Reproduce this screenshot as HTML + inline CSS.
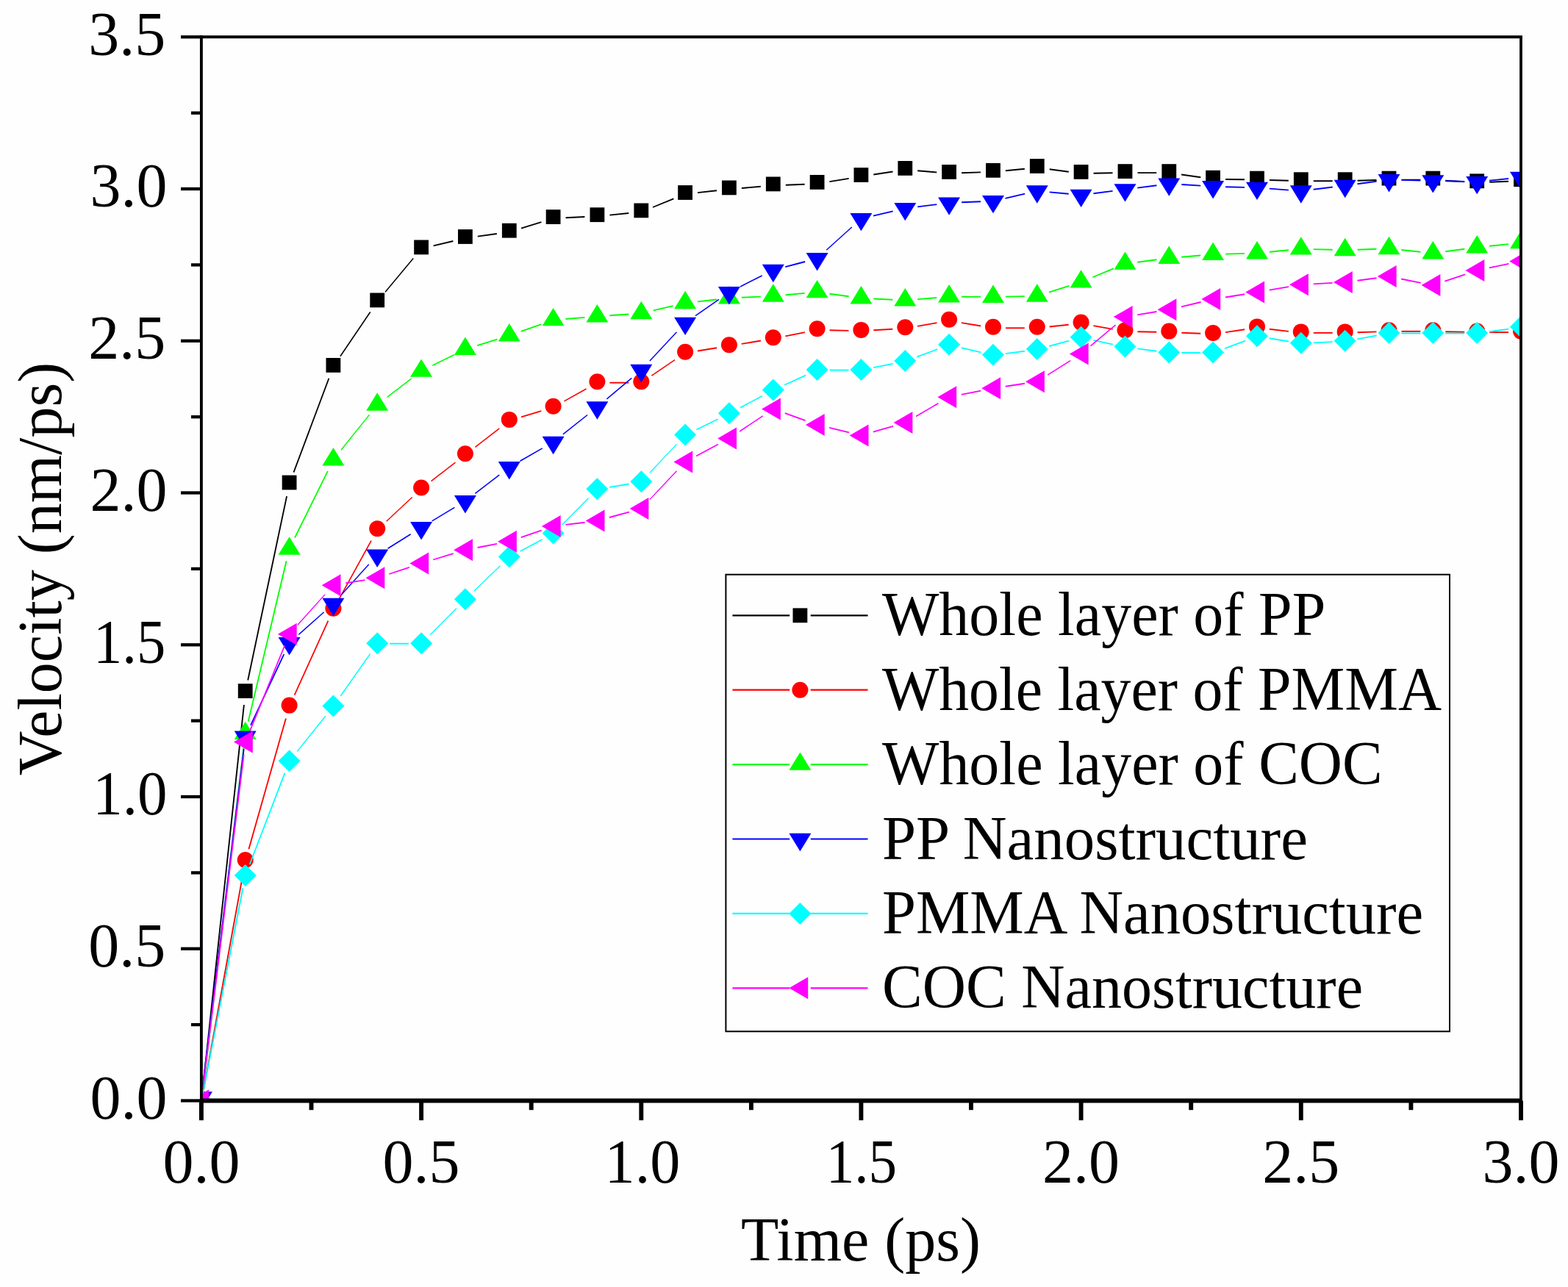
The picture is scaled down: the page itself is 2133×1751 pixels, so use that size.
<!DOCTYPE html>
<html><head><meta charset="utf-8"><title>Velocity vs Time</title>
<style>
html,body{margin:0;padding:0;background:#fefefe;}
svg{display:block;}
text{font-family:"Liberation Serif","Times New Roman",serif;fill:#000;}
</style></head><body>
<svg width="2133" height="1751" viewBox="0 0 2133 1751">
<rect width="2133" height="1751" fill="#fefefe"/>
<defs><clipPath id="pa"><rect x="273.9" y="50.3" width="1795.1" height="1447.2"/></clipPath></defs>
<g clip-path="url(#pa)">
<g fill="none" stroke="#000000"><path stroke-width="1.89" d="M275.7 1482.6L331.9 959"/><path stroke-width="1.86" d="M337.2 925.5L390.1 675.1"/><path stroke-width="1.78" d="M399.5 642.6L447.4 514.8"/><path stroke-width="1.57" d="M462.9 484.8L503.7 424.5"/><path stroke-width="1.46" d="M524.1 397.3L562.2 351.5"/><path stroke-width="1.85" d="M589.6 334.4L616.4 328"/><path stroke-width="1.88" d="M649.8 321.6L675.9 318"/><path stroke-width="1.81" d="M709 310.6L736.4 302.1"/><path stroke-width="1.9" d="M769.6 296.3L795.4 295"/><path stroke-width="1.89" d="M829.4 292.6L855.3 290"/><path stroke-width="1.76" d="M888 282L916.4 270.4"/><path stroke-width="1.89" d="M949 262.1L975 259.3"/><path stroke-width="1.89" d="M1008.9 256L1034.8 253.8"/><path stroke-width="1.9" d="M1068.8 251.7L1094.6 250.7"/><path stroke-width="1.87" d="M1128.4 247.2L1154.7 242.8"/><path stroke-width="1.88" d="M1188.3 237.5L1214.5 233.5"/><path stroke-width="1.89" d="M1248.2 232.3L1274.2 234.5"/><path stroke-width="1.9" d="M1308.1 235.3L1334 234.4"/><path stroke-width="1.89" d="M1367.9 232.2L1393.9 229.7"/><path stroke-width="1.88" d="M1427.7 230.2L1453.8 233.7"/><path stroke-width="1.9" d="M1487.6 235.7L1513.5 235.3"/><path stroke-width="1.9" d="M1547.5 235.1L1573.3 235.1"/><path stroke-width="1.88" d="M1607.1 237.5L1633.3 241.3"/><path stroke-width="1.9" d="M1667.1 244L1693 244.3"/><path stroke-width="1.9" d="M1727 245L1752.8 245.8"/><path stroke-width="1.9" d="M1786.8 246.2L1812.7 246.2"/><path stroke-width="1.9" d="M1846.6 245.8L1872.5 245"/><path stroke-width="1.9" d="M1906.5 244.6L1932.3 244.6"/><path stroke-width="1.9" d="M1966.3 245.6L1992.2 247.2"/><path stroke-width="1.9" d="M2026.2 247.7L2052 246.8"/></g>
<g fill="#000000"><rect x="264" y="1487.6" width="19.8" height="19.8"/><rect x="323.8" y="930.2" width="19.8" height="19.8"/><rect x="383.7" y="646.6" width="19.8" height="19.8"/><rect x="443.5" y="487" width="19.8" height="19.8"/><rect x="503.3" y="398.5" width="19.8" height="19.8"/><rect x="563.2" y="326.5" width="19.8" height="19.8"/><rect x="623" y="312.1" width="19.8" height="19.8"/><rect x="682.9" y="303.8" width="19.8" height="19.8"/><rect x="742.7" y="285.2" width="19.8" height="19.8"/><rect x="802.5" y="282.3" width="19.8" height="19.8"/><rect x="862.4" y="276.5" width="19.8" height="19.8"/><rect x="922.2" y="252.1" width="19.8" height="19.8"/><rect x="982" y="245.5" width="19.8" height="19.8"/><rect x="1041.9" y="240.5" width="19.8" height="19.8"/><rect x="1101.7" y="238" width="19.8" height="19.8"/><rect x="1161.5" y="228.1" width="19.8" height="19.8"/><rect x="1221.4" y="219" width="19.8" height="19.8"/><rect x="1281.2" y="224" width="19.8" height="19.8"/><rect x="1341.1" y="221.9" width="19.8" height="19.8"/><rect x="1400.9" y="216.1" width="19.8" height="19.8"/><rect x="1460.7" y="224" width="19.8" height="19.8"/><rect x="1520.6" y="223.2" width="19.8" height="19.8"/><rect x="1580.4" y="223.2" width="19.8" height="19.8"/><rect x="1640.2" y="231.8" width="19.8" height="19.8"/><rect x="1700.1" y="232.7" width="19.8" height="19.8"/><rect x="1759.9" y="234.3" width="19.8" height="19.8"/><rect x="1819.8" y="234.3" width="19.8" height="19.8"/><rect x="1879.6" y="232.7" width="19.8" height="19.8"/><rect x="1939.4" y="232.7" width="19.8" height="19.8"/><rect x="1999.3" y="236.4" width="19.8" height="19.8"/><rect x="2059.1" y="234.3" width="19.8" height="19.8"/></g>
<g fill="none" stroke="#ff0000"><path stroke-width="1.87" d="M277 1482.3L330.7 1188.2"/><path stroke-width="1.83" d="M338.4 1155.2L388.9 977.4"/><path stroke-width="1.73" d="M400.6 945.6L446.4 844.6"/><path stroke-width="1.66" d="M461.6 814.3L505 735.7"/><path stroke-width="1.39" d="M525.7 709.2L560.7 676.6"/><path stroke-width="1.5" d="M586.5 654.6L619.5 629.1"/><path stroke-width="1.5" d="M646.4 608.3L679.3 582.8"/><path stroke-width="1.82" d="M709 567.4L736.3 559.1"/><path stroke-width="1.66" d="M767.4 545.9L797.6 529"/><path stroke-width="1.9" d="M829.4 520.7L855.3 520.7"/><path stroke-width="1.57" d="M886.3 511.2L918 489.7"/><path stroke-width="1.88" d="M948.9 477.5L975.2 473.3"/><path stroke-width="1.87" d="M1008.7 467.9L1035 463.5"/><path stroke-width="1.86" d="M1068.4 457.4L1094.9 452.1"/><path stroke-width="1.9" d="M1128.6 449.2L1154.5 449.9"/><path stroke-width="1.9" d="M1188.4 449.3L1214.3 447.7"/><path stroke-width="1.87" d="M1248 443.8L1274.4 439.2"/><path stroke-width="1.87" d="M1307.9 439.1L1334.2 443.5"/><path stroke-width="1.9" d="M1368 446.3L1393.8 446.3"/><path stroke-width="1.89" d="M1427.7 444.5L1453.7 441.8"/><path stroke-width="1.87" d="M1487.4 443.1L1513.7 447.8"/><path stroke-width="1.9" d="M1547.5 451.2L1573.3 451.7"/><path stroke-width="1.9" d="M1607.3 452.8L1633.2 453.8"/><path stroke-width="1.88" d="M1667 452.1L1693.2 448.3"/><path stroke-width="1.89" d="M1726.9 447.8L1752.9 450.9"/><path stroke-width="1.9" d="M1786.8 452.9L1812.7 452.9"/><path stroke-width="1.9" d="M1846.6 452.3L1872.5 451.4"/><path stroke-width="1.9" d="M1906.5 450.8L1932.3 450.8"/><path stroke-width="1.9" d="M1966.3 451.2L1992.2 451.7"/><path stroke-width="1.9" d="M2026.2 452.1L2052 452.1"/></g>
<g fill="#ff0000"><circle cx="273.9" cy="1497.5" r="11"/><circle cx="333.7" cy="1170" r="11"/><circle cx="393.6" cy="959.6" r="11"/><circle cx="453.4" cy="827.7" r="11"/><circle cx="513.2" cy="719.3" r="11"/><circle cx="573.1" cy="663.5" r="11"/><circle cx="632.9" cy="617.2" r="11"/><circle cx="692.8" cy="570.9" r="11"/><circle cx="752.6" cy="552.7" r="11"/><circle cx="812.4" cy="519.2" r="11"/><circle cx="872.3" cy="519.2" r="11"/><circle cx="932.1" cy="478.7" r="11"/><circle cx="991.9" cy="469.2" r="11"/><circle cx="1051.8" cy="459.2" r="11"/><circle cx="1111.6" cy="447.2" r="11"/><circle cx="1171.4" cy="448.9" r="11"/><circle cx="1231.3" cy="445.2" r="11"/><circle cx="1291.1" cy="434.8" r="11"/><circle cx="1351" cy="444.8" r="11"/><circle cx="1410.8" cy="444.8" r="11"/><circle cx="1470.6" cy="438.6" r="11"/><circle cx="1530.5" cy="449.3" r="11"/><circle cx="1590.3" cy="450.6" r="11"/><circle cx="1650.1" cy="453" r="11"/><circle cx="1710" cy="444.4" r="11"/><circle cx="1769.8" cy="451.4" r="11"/><circle cx="1829.7" cy="451.4" r="11"/><circle cx="1889.5" cy="449.3" r="11"/><circle cx="1949.3" cy="449.3" r="11"/><circle cx="2009.2" cy="450.6" r="11"/><circle cx="2069" cy="450.6" r="11"/></g>
<g fill="none" stroke="#00ff00"><path stroke-width="1.89" d="M275.9 1484.9L331.7 1015.1"/><path stroke-width="1.85" d="M337.7 981.6L389.6 763.3"/><path stroke-width="1.7" d="M401.1 731.5L445.9 640.9"/><path stroke-width="1.48" d="M464 612.3L502.6 564.1"/><path stroke-width="1.51" d="M526.7 540.4L559.6 515.2"/><path stroke-width="1.7" d="M588.3 497.3L617.7 482.7"/><path stroke-width="1.81" d="M649.2 470.1L676.5 461.6"/><path stroke-width="1.79" d="M708.8 450.9L736.6 441.1"/><path stroke-width="1.89" d="M769.5 434L795.5 431.9"/><path stroke-width="1.9" d="M829.4 429.3L855.3 427.5"/><path stroke-width="1.85" d="M888.8 422.4L915.6 416.2"/><path stroke-width="1.89" d="M949 410.4L975 407.5"/><path stroke-width="1.9" d="M1008.9 404.8L1034.8 403.6"/><path stroke-width="1.89" d="M1068.7 401.2L1094.7 398.9"/><path stroke-width="1.88" d="M1128.5 399.7L1154.6 403.3"/><path stroke-width="1.9" d="M1188.4 406.5L1214.3 407.7"/><path stroke-width="1.89" d="M1248.2 407.1L1274.2 405"/><path stroke-width="1.9" d="M1308.1 403.7L1334 403.9"/><path stroke-width="1.9" d="M1368 403.6L1393.8 403.1"/><path stroke-width="1.81" d="M1427 397.6L1454.4 388.9"/><path stroke-width="1.76" d="M1486.3 377.2L1514.8 365.4"/><path stroke-width="1.88" d="M1547.3 356.7L1573.5 353.3"/><path stroke-width="1.89" d="M1607.2 349.7L1633.2 347.5"/><path stroke-width="1.9" d="M1667.1 345.6L1693 344.9"/><path stroke-width="1.89" d="M1726.9 342.8L1752.9 340.3"/><path stroke-width="1.9" d="M1786.8 339.1L1812.7 339.8"/><path stroke-width="1.9" d="M1846.6 339.7L1872.5 338.8"/><path stroke-width="1.89" d="M1906.4 340L1932.4 342.7"/><path stroke-width="1.88" d="M1966.2 342.2L1992.3 338.8"/><path stroke-width="1.89" d="M2026.1 334.8L2052.1 332.1"/></g>
<g fill="#00ff00"><path d="M273.9 1485.3L288.9 1509.7L258.9 1509.7Z"/><path d="M333.7 981.7L348.7 1006.1L318.7 1006.1Z"/><path d="M393.6 730.3L408.6 754.7L378.6 754.7Z"/><path d="M453.4 609.1L468.4 633.5L438.4 633.5Z"/><path d="M513.2 534.3L528.2 558.7L498.2 558.7Z"/><path d="M573.1 488.4L588.1 512.8L558.1 512.8Z"/><path d="M632.9 458.6L647.9 483L617.9 483Z"/><path d="M692.8 440L707.8 464.4L677.8 464.4Z"/><path d="M752.6 418.9L767.6 443.3L737.6 443.3Z"/><path d="M812.4 414L827.4 438.4L797.4 438.4Z"/><path d="M872.3 409.8L887.3 434.2L857.3 434.2Z"/><path d="M932.1 395.8L947.1 420.2L917.1 420.2Z"/><path d="M991.9 389.1L1006.9 413.5L976.9 413.5Z"/><path d="M1051.8 386.3L1066.8 410.7L1036.8 410.7Z"/><path d="M1111.6 380.9L1126.6 405.3L1096.6 405.3Z"/><path d="M1171.4 389.1L1186.4 413.5L1156.4 413.5Z"/><path d="M1231.3 392L1246.3 416.4L1216.3 416.4Z"/><path d="M1291.1 387.1L1306.1 411.5L1276.1 411.5Z"/><path d="M1351 387.5L1366 411.9L1336 411.9Z"/><path d="M1410.8 386.3L1425.8 410.7L1395.8 410.7Z"/><path d="M1470.6 367.2L1485.6 391.6L1455.6 391.6Z"/><path d="M1530.5 342.4L1545.5 366.8L1515.5 366.8Z"/><path d="M1590.3 334.6L1605.3 359L1575.3 359Z"/><path d="M1650.1 329.6L1665.1 354L1635.1 354Z"/><path d="M1710 328L1725 352.4L1695 352.4Z"/><path d="M1769.8 322.2L1784.8 346.6L1754.8 346.6Z"/><path d="M1829.7 323.8L1844.7 348.2L1814.7 348.2Z"/><path d="M1889.5 321.8L1904.5 346.2L1874.5 346.2Z"/><path d="M1949.3 328L1964.3 352.4L1934.3 352.4Z"/><path d="M2009.2 320.1L2024.2 344.5L1994.2 344.5Z"/><path d="M2069 313.9L2084 338.3L2054 338.3Z"/></g>
<g fill="none" stroke="#0000ff"><path stroke-width="1.89" d="M276 1476L331.7 1019"/><path stroke-width="1.72" d="M341 986.7L386.3 890.1"/><path stroke-width="1.42" d="M406.3 863.4L440.7 832.7"/><path stroke-width="1.41" d="M464.8 808.8L501.8 767.8"/><path stroke-width="1.61" d="M527.6 746.2L558.7 726.7"/><path stroke-width="1.63" d="M587.7 708.9L618.4 690.4"/><path stroke-width="1.51" d="M646.4 671.3L679.3 646.1"/><path stroke-width="1.65" d="M707.5 627.3L737.8 609.9"/><path stroke-width="1.49" d="M765.9 590.8L799.1 564.5"/><path stroke-width="1.45" d="M825.4 542.9L859.3 514.4"/><path stroke-width="1.39" d="M883.9 491L920.5 451.8"/><path stroke-width="1.56" d="M946 429.6L978 407.3"/><path stroke-width="1.7" d="M1007.1 389.9L1036.6 375"/><path stroke-width="1.84" d="M1068.2 363.1L1095.2 356"/><path stroke-width="1.41" d="M1124.2 340.3L1158.8 308.9"/><path stroke-width="1.85" d="M1188 293.6L1214.7 287.3"/><path stroke-width="1.89" d="M1248.2 281.4L1274.3 278.1"/><path stroke-width="1.9" d="M1308.1 275.3L1334 274.2"/><path stroke-width="1.85" d="M1367.5 269.8L1394.2 263.7"/><path stroke-width="1.89" d="M1427.7 261.4L1453.7 263.7"/><path stroke-width="1.89" d="M1487.5 263.2L1513.6 259.9"/><path stroke-width="1.88" d="M1547.3 255.6L1573.5 252.2"/><path stroke-width="1.9" d="M1607.3 251L1633.2 252.6"/><path stroke-width="1.9" d="M1667.1 254.2L1693 254.9"/><path stroke-width="1.89" d="M1726.9 256.6L1752.9 258.6"/><path stroke-width="1.89" d="M1786.7 257.8L1812.8 254.5"/><path stroke-width="1.88" d="M1846.5 250.2L1872.6 246.8"/><path stroke-width="1.9" d="M1906.5 244.9L1932.3 245.5"/><path stroke-width="1.9" d="M1966.3 246.3L1992.2 247"/><path stroke-width="1.89" d="M2026.1 245.7L2052.1 243"/></g>
<g fill="#0000ff"><path d="M258.9 1485.3L288.9 1485.3L273.9 1509.7Z"/><path d="M318.7 994.5L348.7 994.5L333.7 1018.9Z"/><path d="M378.6 867.1L408.6 867.1L393.6 891.5Z"/><path d="M438.4 813.8L468.4 813.8L453.4 838.2Z"/><path d="M498.2 747.6L528.2 747.6L513.2 772Z"/><path d="M558.1 710L588.1 710L573.1 734.4Z"/><path d="M617.9 674L647.9 674L632.9 698.4Z"/><path d="M677.8 628.1L707.8 628.1L692.8 652.5Z"/><path d="M737.6 593.8L767.6 593.8L752.6 618.2Z"/><path d="M797.4 546.3L827.4 546.3L812.4 570.7Z"/><path d="M857.3 495.8L887.3 495.8L872.3 520.2Z"/><path d="M917.1 431.7L947.1 431.7L932.1 456.1Z"/><path d="M976.9 390L1006.9 390L991.9 414.4Z"/><path d="M1036.8 359.8L1066.8 359.8L1051.8 384.2Z"/><path d="M1096.6 344.1L1126.6 344.1L1111.6 368.5Z"/><path d="M1156.4 289.9L1186.4 289.9L1171.4 314.3Z"/><path d="M1216.3 275.9L1246.3 275.9L1231.3 300.3Z"/><path d="M1276.1 268.4L1306.1 268.4L1291.1 292.8Z"/><path d="M1336 265.9L1366 265.9L1351 290.3Z"/><path d="M1395.8 252.3L1425.8 252.3L1410.8 276.7Z"/><path d="M1455.6 257.7L1485.6 257.7L1470.6 282.1Z"/><path d="M1515.5 250.2L1545.5 250.2L1530.5 274.6Z"/><path d="M1575.3 242.4L1605.3 242.4L1590.3 266.8Z"/><path d="M1635.1 246.1L1665.1 246.1L1650.1 270.5Z"/><path d="M1695 247.7L1725 247.7L1710 272.1Z"/><path d="M1754.8 252.3L1784.8 252.3L1769.8 276.7Z"/><path d="M1814.7 244.8L1844.7 244.8L1829.7 269.2Z"/><path d="M1874.5 237L1904.5 237L1889.5 261.4Z"/><path d="M1934.3 238.2L1964.3 238.2L1949.3 262.6Z"/><path d="M1994.2 239.9L2024.2 239.9L2009.2 264.3Z"/><path d="M2054 233.7L2084 233.7L2069 258.1Z"/></g>
<g fill="none" stroke="#00ffff"><path stroke-width="1.86" d="M277.2 1481.3L330.5 1208.3"/><path stroke-width="1.77" d="M339.8 1175.7L387.5 1051.6"/><path stroke-width="1.48" d="M404.2 1022.4L442.8 974.2"/><path stroke-width="1.55" d="M463.2 947L503.5 889.6"/><path stroke-width="1.9" d="M530.2 875.7L556.1 875.7"/><path stroke-width="1.34" d="M585.1 863.7L620.9 827.8"/><path stroke-width="1.37" d="M645.1 803.9L680.5 769.7"/><path stroke-width="1.68" d="M707.8 749.9L737.6 734"/><path stroke-width="1.35" d="M764.6 713.9L800.5 677.7"/><path stroke-width="1.87" d="M829.2 662.9L855.5 658.5"/><path stroke-width="1.38" d="M883.9 643.3L920.5 604.4"/><path stroke-width="1.71" d="M947.4 584.6L976.7 570.2"/><path stroke-width="1.68" d="M1006.9 554.7L1036.8 538.8"/><path stroke-width="1.73" d="M1067.2 523.8L1096.1 510.6"/><path stroke-width="1.9" d="M1128.6 503.6L1154.4 503.6"/><path stroke-width="1.86" d="M1188.1 500.2L1214.6 494.9"/><path stroke-width="1.78" d="M1247.2 485.6L1275.2 475.2"/><path stroke-width="1.85" d="M1307.7 473.1L1334.4 479.4"/><path stroke-width="1.88" d="M1367.8 481.1L1393.9 477.7"/><path stroke-width="1.83" d="M1427.2 471L1454.2 463.7"/><path stroke-width="1.86" d="M1487.3 462.9L1513.8 468.6"/><path stroke-width="1.88" d="M1547.3 474.4L1573.5 477.8"/><path stroke-width="1.9" d="M1607.3 480L1633.1 480"/><path stroke-width="1.78" d="M1666.1 474.1L1694.1 463.6"/><path stroke-width="1.88" d="M1726.8 460.3L1753 464.5"/><path stroke-width="1.9" d="M1786.8 466.4L1812.7 465.1"/><path stroke-width="1.87" d="M1846.4 461.3L1872.8 456.5"/><path stroke-width="1.9" d="M1906.5 453.5L1932.3 453.5"/><path stroke-width="1.9" d="M1966.3 453.5L1992.2 453.5"/><path stroke-width="1.88" d="M2026 451.2L2052.2 447.6"/></g>
<g fill="#00ffff"><path d="M273.9 1482.5L288.9 1497.5L273.9 1512.5L258.9 1497.5Z"/><path d="M333.7 1176.1L348.7 1191.1L333.7 1206.1L318.7 1191.1Z"/><path d="M393.6 1020.2L408.6 1035.2L393.6 1050.2L378.6 1035.2Z"/><path d="M453.4 945.4L468.4 960.4L453.4 975.4L438.4 960.4Z"/><path d="M513.2 860.2L528.2 875.2L513.2 890.2L498.2 875.2Z"/><path d="M573.1 860.2L588.1 875.2L573.1 890.2L558.1 875.2Z"/><path d="M632.9 800.2L647.9 815.2L632.9 830.2L617.9 815.2Z"/><path d="M692.8 742.4L707.8 757.4L692.8 772.4L677.8 757.4Z"/><path d="M752.6 710.5L767.6 725.5L752.6 740.5L737.6 725.5Z"/><path d="M812.4 650.2L827.4 665.2L812.4 680.2L797.4 665.2Z"/><path d="M872.3 640.2L887.3 655.2L872.3 670.2L857.3 655.2Z"/><path d="M932.1 576.6L947.1 591.6L932.1 606.6L917.1 591.6Z"/><path d="M991.9 547.2L1006.9 562.2L991.9 577.2L976.9 562.2Z"/><path d="M1051.8 515.4L1066.8 530.4L1051.8 545.4L1036.8 530.4Z"/><path d="M1111.6 488.1L1126.6 503.1L1111.6 518.1L1096.6 503.1Z"/><path d="M1171.4 488.1L1186.4 503.1L1171.4 518.1L1156.4 503.1Z"/><path d="M1231.3 476.1L1246.3 491.1L1231.3 506.1L1216.3 491.1Z"/><path d="M1291.1 453.7L1306.1 468.7L1291.1 483.7L1276.1 468.7Z"/><path d="M1351 467.8L1366 482.8L1351 497.8L1336 482.8Z"/><path d="M1410.8 459.9L1425.8 474.9L1410.8 489.9L1395.8 474.9Z"/><path d="M1470.6 443.8L1485.6 458.8L1470.6 473.8L1455.6 458.8Z"/><path d="M1530.5 456.6L1545.5 471.6L1530.5 486.6L1515.5 471.6Z"/><path d="M1590.3 464.5L1605.3 479.5L1590.3 494.5L1575.3 479.5Z"/><path d="M1650.1 464.5L1665.1 479.5L1650.1 494.5L1635.1 479.5Z"/><path d="M1710 442.2L1725 457.2L1710 472.2L1695 457.2Z"/><path d="M1769.8 451.7L1784.8 466.7L1769.8 481.7L1754.8 466.7Z"/><path d="M1829.7 448.8L1844.7 463.8L1829.7 478.8L1814.7 463.8Z"/><path d="M1889.5 438L1904.5 453L1889.5 468L1874.5 453Z"/><path d="M1949.3 438L1964.3 453L1949.3 468L1934.3 453Z"/><path d="M2009.2 438L2024.2 453L2009.2 468L1994.2 453Z"/><path d="M2069 429.8L2084 444.8L2069 459.8L2054 444.8Z"/></g>
<g fill="none" stroke="#ff00ff"><path stroke-width="1.89" d="M276 1480.6L331.7 1026.5"/><path stroke-width="1.76" d="M340.2 993.8L387.2 878.5"/><path stroke-width="1.41" d="M404.9 850.2L442 808.9"/><path stroke-width="1.87" d="M470.2 793.4L496.5 789.1"/><path stroke-width="1.8" d="M529.4 781L556.9 771.8"/><path stroke-width="1.82" d="M589.3 761.5L616.7 753.2"/><path stroke-width="1.87" d="M649.6 745L676.1 739.9"/><path stroke-width="1.8" d="M708.8 731.1L736.5 721.6"/><path stroke-width="1.89" d="M769.5 713.9L795.6 710.7"/><path stroke-width="1.83" d="M828.8 704L855.9 696.6"/><path stroke-width="1.38" d="M883.9 679.6L920.5 640.7"/><path stroke-width="1.68" d="M947.1 620.4L976.9 604.5"/><path stroke-width="1.58" d="M1006.1 587L1037.7 565.9"/><path stroke-width="1.79" d="M1067.8 562.2L1095.6 572.2"/><path stroke-width="1.85" d="M1128.1 581.9L1154.9 588.4"/><path stroke-width="1.82" d="M1187.8 587.6L1215 579.8"/><path stroke-width="1.64" d="M1246 566.5L1276.4 548.8"/><path stroke-width="1.86" d="M1307.8 536.9L1334.3 531.6"/><path stroke-width="1.88" d="M1367.8 525.7L1394 521.7"/><path stroke-width="1.61" d="M1425.2 510.1L1456.2 490.6"/><path stroke-width="1.45" d="M1483.6 470.6L1517.5 442.1"/><path stroke-width="1.87" d="M1547.2 428.3L1573.5 424"/><path stroke-width="1.85" d="M1606.9 417.3L1633.6 411"/><path stroke-width="1.88" d="M1666.9 404.5L1693.2 400.3"/><path stroke-width="1.87" d="M1726.7 394.7L1753.1 390.2"/><path stroke-width="1.9" d="M1786.8 386.4L1812.7 384.9"/><path stroke-width="1.88" d="M1846.5 381.8L1872.6 378.3"/><path stroke-width="1.86" d="M1906.2 379.5L1932.7 384.8"/><path stroke-width="1.8" d="M1965.4 382.7L1993.1 373.3"/><path stroke-width="1.86" d="M2025.8 364.4L2052.4 358.9"/></g>
<g fill="#ff00ff"><path d="M258.2 1497.5L284 1482.5L284 1512.5Z"/><path d="M318 1009.6L343.8 994.6L343.8 1024.6Z"/><path d="M377.9 862.8L403.7 847.8L403.7 877.8Z"/><path d="M437.7 796.2L463.5 781.2L463.5 811.2Z"/><path d="M497.5 786.3L523.3 771.3L523.3 801.3Z"/><path d="M557.4 766.5L583.2 751.5L583.2 781.5Z"/><path d="M617.2 748.3L643 733.3L643 763.3Z"/><path d="M677.1 736.7L702.9 721.7L702.9 751.7Z"/><path d="M736.9 716L762.7 701L762.7 731Z"/><path d="M796.7 708.6L822.5 693.6L822.5 723.6Z"/><path d="M856.6 692L882.4 677L882.4 707Z"/><path d="M916.4 628.4L942.2 613.4L942.2 643.4Z"/><path d="M976.2 596.5L1002 581.5L1002 611.5Z"/><path d="M1036.1 556.4L1061.9 541.4L1061.9 571.4Z"/><path d="M1095.9 577.9L1121.7 562.9L1121.7 592.9Z"/><path d="M1155.7 592.4L1181.5 577.4L1181.5 607.4Z"/><path d="M1215.6 575L1241.4 560L1241.4 590Z"/><path d="M1275.4 540.3L1301.2 525.3L1301.2 555.3Z"/><path d="M1335.3 528.3L1361.1 513.3L1361.1 543.3Z"/><path d="M1395.1 519.2L1420.9 504.2L1420.9 534.2Z"/><path d="M1454.9 481.6L1480.7 466.6L1480.7 496.6Z"/><path d="M1514.8 431.1L1540.6 416.1L1540.6 446.1Z"/><path d="M1574.6 421.2L1600.4 406.2L1600.4 436.2Z"/><path d="M1634.4 407.1L1660.2 392.1L1660.2 422.1Z"/><path d="M1694.3 397.6L1720.1 382.6L1720.1 412.6Z"/><path d="M1754.1 387.3L1779.9 372.3L1779.9 402.3Z"/><path d="M1814 384L1839.8 369L1839.8 399Z"/><path d="M1873.8 376.1L1899.6 361.1L1899.6 391.1Z"/><path d="M1933.6 388.1L1959.4 373.1L1959.4 403.1Z"/><path d="M1993.5 367.9L2019.3 352.9L2019.3 382.9Z"/><path d="M2053.3 355.5L2079.1 340.5L2079.1 370.5Z"/></g>
</g>
<g stroke="#000" fill="none">
<line x1="271.9" y1="50.3" x2="2070.9" y2="50.3" stroke-width="4.1"/>
<line x1="2069" y1="50.3" x2="2069" y2="1497.5" stroke-width="3.8"/>
<line x1="273.9" y1="48.3" x2="273.9" y2="1497.5" stroke-width="3.9"/>
<line x1="272" y1="1497.5" x2="2070.9" y2="1497.5" stroke-width="5.9"/>
<line x1="246" y1="1497.5" x2="273.9" y2="1497.5" stroke-width="4.3"/>
<line x1="260" y1="1394.1" x2="273.9" y2="1394.1" stroke-width="4.3"/>
<line x1="246" y1="1290.8" x2="273.9" y2="1290.8" stroke-width="4.3"/>
<line x1="260" y1="1187.4" x2="273.9" y2="1187.4" stroke-width="4.3"/>
<line x1="246" y1="1084" x2="273.9" y2="1084" stroke-width="4.3"/>
<line x1="260" y1="980.6" x2="273.9" y2="980.6" stroke-width="4.3"/>
<line x1="246" y1="877.3" x2="273.9" y2="877.3" stroke-width="4.3"/>
<line x1="260" y1="773.9" x2="273.9" y2="773.9" stroke-width="4.3"/>
<line x1="246" y1="670.5" x2="273.9" y2="670.5" stroke-width="4.3"/>
<line x1="260" y1="567.2" x2="273.9" y2="567.2" stroke-width="4.3"/>
<line x1="246" y1="463.8" x2="273.9" y2="463.8" stroke-width="4.3"/>
<line x1="260" y1="360.4" x2="273.9" y2="360.4" stroke-width="4.3"/>
<line x1="246" y1="257" x2="273.9" y2="257" stroke-width="4.3"/>
<line x1="260" y1="153.7" x2="273.9" y2="153.7" stroke-width="4.3"/>
<line x1="246" y1="50.3" x2="273.9" y2="50.3" stroke-width="4.3"/>
<line x1="273.9" y1="1497.5" x2="273.9" y2="1524.2" stroke-width="5.9"/>
<line x1="423.5" y1="1497.5" x2="423.5" y2="1510.2" stroke-width="5.9"/>
<line x1="573.1" y1="1497.5" x2="573.1" y2="1524.2" stroke-width="5.9"/>
<line x1="722.7" y1="1497.5" x2="722.7" y2="1510.2" stroke-width="5.9"/>
<line x1="872.3" y1="1497.5" x2="872.3" y2="1524.2" stroke-width="5.9"/>
<line x1="1021.9" y1="1497.5" x2="1021.9" y2="1510.2" stroke-width="5.9"/>
<line x1="1171.4" y1="1497.5" x2="1171.4" y2="1524.2" stroke-width="5.9"/>
<line x1="1321" y1="1497.5" x2="1321" y2="1510.2" stroke-width="5.9"/>
<line x1="1470.6" y1="1497.5" x2="1470.6" y2="1524.2" stroke-width="5.9"/>
<line x1="1620.2" y1="1497.5" x2="1620.2" y2="1510.2" stroke-width="5.9"/>
<line x1="1769.8" y1="1497.5" x2="1769.8" y2="1524.2" stroke-width="5.9"/>
<line x1="1919.4" y1="1497.5" x2="1919.4" y2="1510.2" stroke-width="5.9"/>
<line x1="2069" y1="1497.5" x2="2069" y2="1524.2" stroke-width="5.9"/>
</g>
<g font-size="84">
<text x="227.5" y="1521.9" text-anchor="end">0.0</text>
<text x="225.2" y="1315.2" text-anchor="end">0.5</text>
<text x="227.5" y="1108.4" text-anchor="end" textLength="101.2" lengthAdjust="spacingAndGlyphs">1.0</text>
<text x="225.2" y="901.7" text-anchor="end" textLength="98.2" lengthAdjust="spacingAndGlyphs">1.5</text>
<text x="227.5" y="694.9" text-anchor="end">2.0</text>
<text x="225.2" y="488.2" text-anchor="end">2.5</text>
<text x="227.5" y="281.4" text-anchor="end">3.0</text>
<text x="225.2" y="74.7" text-anchor="end">3.5</text>
<text x="273.9" y="1608.5" text-anchor="middle">0.0</text>
<text x="573.1" y="1608.5" text-anchor="middle">0.5</text>
<text x="873.9" y="1608.5" text-anchor="middle" textLength="102.7" lengthAdjust="spacingAndGlyphs">1.0</text>
<text x="1171.9" y="1608.5" text-anchor="middle" textLength="96.4" lengthAdjust="spacingAndGlyphs">1.5</text>
<text x="1470.6" y="1608.5" text-anchor="middle">2.0</text>
<text x="1769.8" y="1608.5" text-anchor="middle">2.5</text>
<text x="2069" y="1608.5" text-anchor="middle">3.0</text>
<text x="1171" y="1715" text-anchor="middle">Time (ps)</text>
<text transform="translate(82.5 774) rotate(-90)" text-anchor="middle">Velocity (nm/ps)</text>
</g>
<rect x="987.4" y="781.7" width="984.6" height="621.6" fill="#fefefe" stroke="#000" stroke-width="2"/>
<path d="M996.4 837.3H1074.2M1102.7 837.3H1180.5" stroke="#000000" stroke-width="2.2"/>
<g fill="#000000"><rect x="1078.5" y="827.4" width="19.8" height="19.8"/></g>
<text x="1200" y="864.3" font-size="84" textLength="603.3" lengthAdjust="spacingAndGlyphs">Whole layer of PP</text>
<path d="M996.4 938.7H1074.2M1102.7 938.7H1180.5" stroke="#ff0000" stroke-width="2.2"/>
<g fill="#ff0000"><circle cx="1088.4" cy="938.7" r="11"/></g>
<text x="1200" y="965.7" font-size="84" textLength="761" lengthAdjust="spacingAndGlyphs">Whole layer of PMMA</text>
<path d="M996.4 1040.1H1074.2M1102.7 1040.1H1180.5" stroke="#00ff00" stroke-width="2.2"/>
<g fill="#00ff00"><path d="M1088.4 1023.4L1103.4 1047.8L1073.4 1047.8Z"/></g>
<text x="1200" y="1067.1" font-size="84" textLength="680.7" lengthAdjust="spacingAndGlyphs">Whole layer of COC</text>
<path d="M996.4 1141.5H1074.2M1102.7 1141.5H1180.5" stroke="#0000ff" stroke-width="2.2"/>
<g fill="#0000ff"><path d="M1073.4 1133.8L1103.4 1133.8L1088.4 1158.2Z"/></g>
<text x="1200" y="1168.5" font-size="84" textLength="578.9" lengthAdjust="spacingAndGlyphs">PP Nanostructure</text>
<path d="M996.4 1242.9H1074.2M1102.7 1242.9H1180.5" stroke="#00ffff" stroke-width="2.2"/>
<g fill="#00ffff"><path d="M1088.4 1227.9L1103.4 1242.9L1088.4 1257.9L1073.4 1242.9Z"/></g>
<text x="1200" y="1269.9" font-size="84" textLength="736.2" lengthAdjust="spacingAndGlyphs">PMMA Nanostructure</text>
<path d="M996.4 1344.3H1074.2M1102.7 1344.3H1180.5" stroke="#ff00ff" stroke-width="2.2"/>
<g fill="#ff00ff"><path d="M1073.4 1344.3L1099.2 1329.3L1099.2 1359.3Z"/></g>
<text x="1200" y="1371.3" font-size="84" textLength="654.1" lengthAdjust="spacingAndGlyphs">COC Nanostructure</text>
</svg>
</body></html>
